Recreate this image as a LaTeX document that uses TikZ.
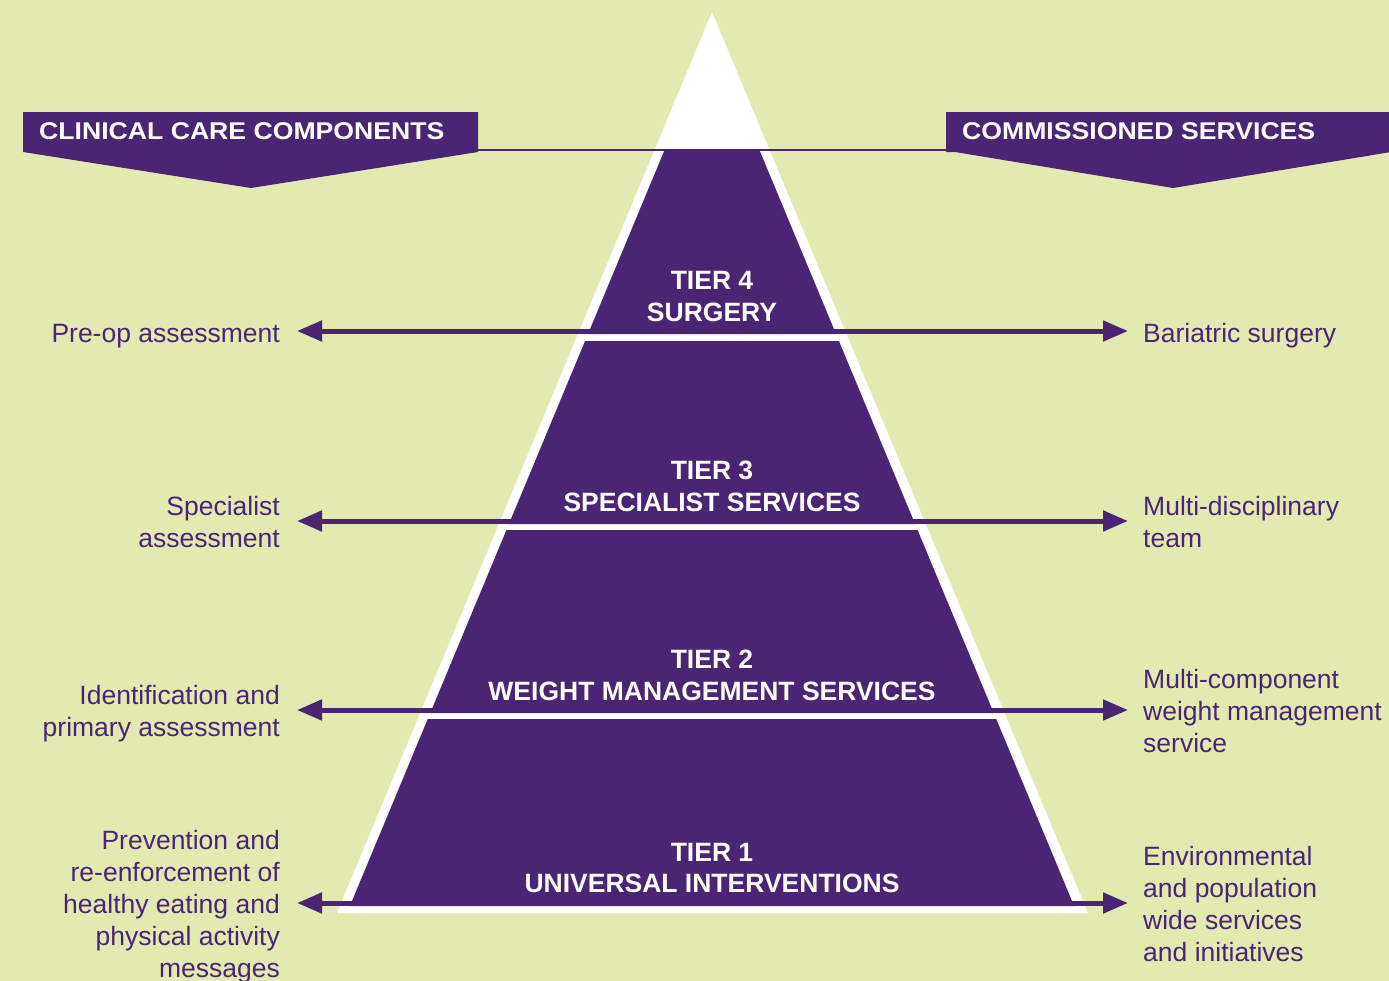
\documentclass[tikz,border=0pt]{standalone}
\usepackage{fontspec}
\setmainfont{Liberation Sans}
\usetikzlibrary{positioning,arrows.meta}
\definecolor{pagegreen}{RGB}{227,234,177}
\definecolor{tierpurple}{RGB}{74,37,116}
\tikzset{
	tier/.style={fill=tierpurple},
	banner/.style={fill=tierpurple},
	bannertext/.style={text=white, anchor=west, inner sep=0pt,
		font=\addfontfeatures{FakeStretch=1.1}\fontsize{24.2}{28}\selectfont\bfseries},
	tierlabel/.style={text=white, align=center, inner sep=0pt,
		font=\fontsize{26.5}{32}\selectfont\bfseries},
	careitem/.style={text=tierpurple, align=right, inner sep=0pt, yshift=-5.5pt,
		font=\fontsize{26.5}{32}\selectfont,
		execute at begin node=\strut, execute at end node=\strut},
	serviceitem/.style={careitem, align=left},
	tierarrow/.style={draw=tierpurple, line width=5pt,
		{Triangle[length=25pt,width=20pt]}-{Triangle[length=25pt,width=20pt]}}
}
\begin{document}
\begin{tikzpicture}[x=1pt,y=-1pt]
	\useasboundingbox (0,0) rectangle (1389,980);
	\fill[pagegreen] (-2,-2) rectangle (1391,982);
	
	% pyramid
	\fill[white] (712,12) -- (1088,913) -- (337,913) -- cycle;
	\foreach \ytop/\ybot in {150/334, 341/524, 530/713, 719/906}
		\fill[tier] ({722-0.4162*(\ytop-12)},\ytop) -- ({702+0.4162*(\ytop-12)},\ytop)
			-- ({702+0.4162*(\ybot-12)},\ybot) -- ({722-0.4162*(\ybot-12)},\ybot) -- cycle;
	
	% banners
	\fill[banner] (23,112) -- (478,112) -- (478,152) -- (251,188) -- (23,152) -- cycle;
	\fill[banner] (946,112) -- (1391,112) -- (1391,152) -- (1173,188) -- (955,152) -- (946,152) -- cycle;
	\coordinate (careend) at (478,150);
	\coordinate (serviceend) at (947,150);
	\draw[tierpurple, line width=2pt] (careend) -- (serviceend);
	\node[bannertext] (care) at (39,131) {CLINICAL CARE COMPONENTS};
	\node[bannertext] (services) at (962,131) {COMMISSIONED SERVICES};
	
	% arrow ends
	\coordinate (l4) at (297,331); \coordinate (r4) at (1128,331);
	\coordinate (l3) at (297,521); \coordinate (r3) at (1128,521);
	\coordinate (l2) at (297,710); \coordinate (r2) at (1128,710);
	\coordinate (l1) at (297,903); \coordinate (r1) at (1128,903);
	
	\draw[tierarrow] (l4) -- (r4);
	\draw[tierarrow] (l3) -- (r3);
	\draw[tierarrow] (l2) -- (r2);
	\draw[tierarrow] (l1) -- (r1);
	
	\node[tierlabel] (tier4) at (712,297) {TIER 4\\SURGERY};
	\node[tierlabel] (tier3) at (712,486) {TIER 3\\SPECIALIST SERVICES};
	\node[tierlabel] (tier2) at (712,675) {TIER 2\\WEIGHT MANAGEMENT SERVICES};
	\node[tierlabel] (tier1) at (712,868) {TIER 1\\UNIVERSAL INTERVENTIONS};
	
	\node[careitem, left=17pt of l4] (preop) {Pre-op assessment};
	\node[careitem, left=17pt of l3] (specialist) {Specialist\\assessment};
	\node[careitem, left=17pt of l2] (identification) {Identification and\\primary assessment};
	\node[careitem, left=17pt of l1] (prevention) {Prevention and\\re-enforcement of\\healthy eating and\\physical activity\\messages};
	
	\node[serviceitem, right=15pt of r4] (bariatric) {Bariatric surgery};
	\node[serviceitem, right=15pt of r3] (mdt) {Multi-disciplinary\\team};
	\node[serviceitem, right=15pt of r2] (multicomp) {Multi-component\\weight management\\service};
	\node[serviceitem, right=15pt of r1] (environmental) {Environmental\\and population\\wide services\\and initiatives};
\end{tikzpicture}
\end{document}
